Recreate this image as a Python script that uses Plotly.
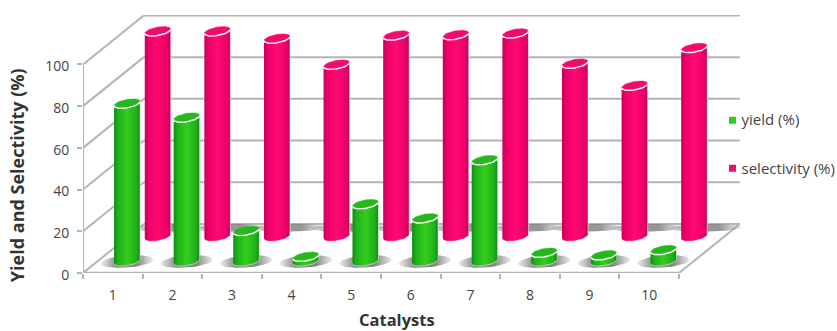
import numpy as np
import plotly.graph_objects as go

catalysts = [1, 2, 3, 4, 5, 6, 7, 8, 9, 10]
yield_pct = [75.7, 69, 14.7, 2.3, 27.5, 20.7, 48.6, 4.2, 3, 5.5]
selectivity_pct = [98.5, 98.5, 95, 82.5, 96.5, 96.7, 97.5, 83, 72.4, 90.5]
y_ticks = [0, 20, 40, 60, 80, 100]
series_names = ["yield (%)", "selectivity (%)"]
series_colors = ["#2ad01e", "#f20a6c"]

# Oblique projection: one unit of depth moves a point along these data-unit offsets.
DEPTH_X = 1.02
DEPTH_Y = 23.5
YIELD_DEPTH = 0.235
SELECT_DEPTH = 0.74
RADIUS_X = 0.195
RADIUS_D = 0.096
GRID = "#b4b4b4"


def project(cat, value, depth):
    return cat + DEPTH_X * depth, value + DEPTH_Y * depth


def arc(cat, value, depth, t):
    return project(cat + RADIUS_X * np.cos(t), value, depth + RADIUS_D * np.sin(t))


def line(fig, xs, ys, color=GRID, width=2):
    fig.add_trace(go.Scatter(x=xs, y=ys, mode="lines", line=dict(color=color, width=width),
                             cliponaxis=False, showlegend=False, hoverinfo="skip"))


def shadow(fig, cat, depth, radius_x, radius_d, color_mid):
    t = np.linspace(0, 2 * np.pi, 61)
    sx, sy = project(cat + radius_x * np.cos(t), 0, depth + radius_d * np.sin(t))
    fig.add_trace(go.Scatter(
        x=sx, y=sy, mode="lines", fill="toself",
        line=dict(width=0, color="rgba(0,0,0,0)"),
        fillgradient=dict(type="horizontal", colorscale=[
            [0, "rgba(150,150,150,0.2)"], [0.3, color_mid], [0.7, color_mid],
            [1, "rgba(150,150,150,0.2)"]]),
        cliponaxis=False, showlegend=False, hoverinfo="skip"))


def cylinder(fig, cat, value, depth, dark, mid, bright, top):
    # Silhouette angle of the projected circle
    t0 = np.arctan2(RADIUS_D * DEPTH_X, RADIUS_X)
    lower = np.linspace(t0 + np.pi, t0 + 2 * np.pi, 40)
    bx, by = arc(cat, 0, depth, lower)
    tx, ty = arc(cat, value, depth, lower[::-1])
    fig.add_trace(go.Scatter(
        x=np.r_[bx, tx], y=np.r_[by, ty], mode="lines", fill="toself",
        line=dict(color="rgba(255,255,255,0.55)", width=1),
        fillgradient=dict(type="horizontal", colorscale=[
            [0, dark], [0.14, mid], [0.5, bright], [0.86, mid], [1, dark]]),
        cliponaxis=False, showlegend=False, hoverinfo="skip"))
    t = np.linspace(0, 2 * np.pi, 61)
    ex, ey = arc(cat, value, depth, t)
    fig.add_trace(go.Scatter(x=ex, y=ey, mode="lines", fill="toself", fillcolor=top,
                             line=dict(color=top, width=0.5), cliponaxis=False,
                             showlegend=False, hoverinfo="skip"))
    rx, ry = arc(cat, value, depth, lower)
    line(fig, rx, ry, color="rgba(255,255,255,0.92)", width=1.5)


fig = go.Figure()

# Walls and floor outline
for v in y_ticks:
    bx, by = project(0.5, v, 1)
    ex, _ = project(10.5, v, 1)
    line(fig, [0.5, bx], [v, by])
    line(fig, [bx, ex], [by, by])
fx, fy = project(10.5, 0, 1)
line(fig, [10.5, fx], [0, fy])
line(fig, [0.5, 10.5], [0, 0], width=2.5)
line(fig, [0.5, 0.5], [0, 100])

# Floor shadows
for c in catalysts:
    shadow(fig, c, 0.92, 0.6, 0.08, "rgba(125,125,125,0.8)")
for c in catalysts:
    shadow(fig, c, YIELD_DEPTH, 0.42, 0.13, "rgba(120,120,120,0.9)")

# Rear row first so the front row overlaps it
for c, v in zip(catalysts, selectivity_pct):
    cylinder(fig, c, v, SELECT_DEPTH, "#c00058", "#ea0068", "#ff0a72", "#f20a6c")
for c, v in zip(catalysts, yield_pct):
    cylinder(fig, c, v, YIELD_DEPTH, "#0c8a10", "#1fb01a", "#36cc1e", "#24b81c")

# Legend entries; the swatches are placed close to their labels as layout shapes
for name in series_names:
    fig.add_trace(go.Scatter(x=[None], y=[None], mode="markers", name=name, legendgroup=name,
                             cliponaxis=False,
                             marker=dict(symbol="square", size=7, color="rgba(0,0,0,0)")))

swatch_rows = [0.592, 0.406]
swatch_shapes = [
    dict(type="rect", xref="paper", yref="paper", layer="above", line_width=0, fillcolor=color,
         x0=0.9818, x1=0.9924, y0=row - 0.0135, y1=row + 0.0135)
    for color, row in zip(series_colors, swatch_rows)
]

tick_font = dict(family="Open Sans", size=14, color="#444444")
fig.update_layout(
    width=837, height=331,
    margin=dict(l=83, r=96, t=15, b=58, autoexpand=False),
    paper_bgcolor="white", plot_bgcolor="rgba(0,0,0,0)",
    font=dict(family="Open Sans", color="#444444"),
    shapes=swatch_shapes,
    xaxis=dict(range=[0.5, 11.54], tickmode="array", tickvals=catalysts,
               ticks="", showgrid=False, zeroline=False, showline=False,
               tickfont=tick_font, ticklabelstandoff=12,
               minor=dict(tickmode="array", tickvals=[c - 0.5 for c in catalysts] + [10.5],
                          ticks="outside", ticklen=5, tickcolor=GRID, tickwidth=1.5,
                          showgrid=False)),
    yaxis=dict(range=[0, 123.7], tickmode="array", tickvals=y_ticks, ticks="outside",
               ticklen=5, tickcolor=GRID, tickwidth=1.5, showgrid=False, zeroline=False,
               showline=False, tickfont=tick_font, ticklabelstandoff=5, ticklabelshift=2),
    legend=dict(x=0.94, y=0.659, xanchor="left", yanchor="top", bgcolor="rgba(0,0,0,0)",
                tracegroupgap=26, itemwidth=30,
                font=dict(family="Open Sans", size=15, color="#444444")),
    annotations=[
        dict(text="<b>Yield and Selectivity (%)</b>", xref="paper", yref="paper", x=-0.1,
             y=0.38, textangle=-90, showarrow=False, xanchor="center", yanchor="middle",
             font=dict(family="Open Sans", size=18, color="#333333")),
        dict(text="<b>Catalysts</b>", xref="paper", yref="paper", x=0.477, y=-0.18,
             showarrow=False, xanchor="center", yanchor="middle",
             font=dict(family="Open Sans", size=16.5, color="#333333")),
    ],
)

fig.write_html("out.html")
